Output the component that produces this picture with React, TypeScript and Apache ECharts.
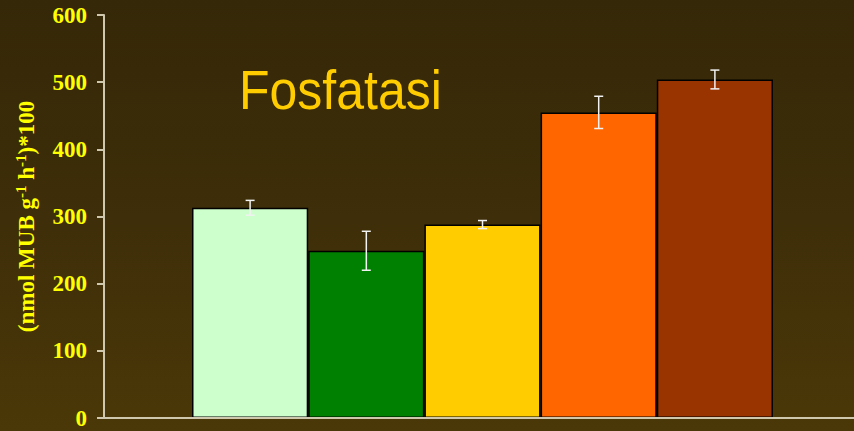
import React, { useEffect, useRef } from "react";
import * as echarts from "echarts";

const categories = ["1", "2", "3", "4", "5"];
const values = [313, 249, 288, 455, 504];
const errors = [11, 29, 6, 24, 14];
const barColors = ["#CCFFCC", "#008000", "#FFCC00", "#FF6600", "#993300"];
const yTicks = { min: 0, max: 600, interval: 100 };
const titleText = "Fosfatasi";
const yName = "{n|(nmol MUB g}{sup|-1}{n| h}{sup|-1}{n|)*100}";

export default function App() {
  const ref = useRef<HTMLDivElement>(null);
  useEffect(() => {
    if (!ref.current) return;
    const chart = echarts.init(ref.current, undefined, { renderer: "svg" });
    const axisColor = "#cfc7ae";
    const nameFont = {
      color: "#FFFF00",
      fontFamily: "Liberation Serif",
      fontWeight: "bold",
    };
    const option: any = {
      animation: false,
      backgroundColor: "transparent",
      graphic: [
        {
          type: "text",
          x: 239,
          y: 62,
          scaleY: 1.1,
          style: {
            text: titleText,
            fill: "#FFCC00",
            fontFamily: "Liberation Sans",
            fontSize: 50,
            verticalAlign: "top",
          },
        },
      ],
      grid: [
        { left: 104, right: 0, top: 15, bottom: 13 },
        { left: 192, right: 81, top: 15, bottom: 13 },
      ],
      xAxis: [
        {
          type: "category",
          gridIndex: 0,
          data: [""],
          axisLine: { lineStyle: { color: axisColor, width: 2 } },
          axisTick: { show: false },
          axisLabel: { show: false },
          z: 5,
        },
        {
          type: "category",
          gridIndex: 1,
          data: categories,
          show: false,
        },
      ],
      yAxis: [
        {
          type: "value",
          gridIndex: 0,
          min: yTicks.min,
          max: yTicks.max,
          interval: yTicks.interval,
          splitLine: { show: false },
          axisLine: { show: true, lineStyle: { color: axisColor, width: 2 } },
          axisTick: { show: true, length: 7, lineStyle: { color: axisColor, width: 2 } },
          axisLabel: {
            color: "#FFFF00",
            fontFamily: "Liberation Serif",
            fontWeight: "bold",
            fontSize: 23,
            margin: 17,
          },
          name: yName,
          nameLocation: "middle",
          nameRotate: 90,
          nameGap: 66,
          nameTextStyle: {
            ...nameFont,
            fontSize: 23,
            rich: {
              n: { ...nameFont, fontSize: 23, lineHeight: 24, verticalAlign: "bottom" },
              sup: {
                ...nameFont,
                fontSize: 15,
                lineHeight: 15,
                verticalAlign: "top",
                padding: [0, 0, 13, 0],
              },
            },
          },
        },
        {
          type: "value",
          gridIndex: 1,
          min: yTicks.min,
          max: yTicks.max,
          interval: yTicks.interval,
          show: false,
        },
      ],
      series: [
        {
          type: "bar",
          xAxisIndex: 1,
          yAxisIndex: 1,
          barWidth: "100%",
          data: values.map((v, i) => ({
            value: v,
            itemStyle: { color: barColors[i], borderColor: "#000", borderWidth: 1.5 },
          })),
        },
        {
          type: "custom",
          xAxisIndex: 1,
          yAxisIndex: 1,
          z: 10,
          data: values.map((v, i) => [i, v, errors[i]]),
          renderItem: (params: any, api: any) => {
            const i = api.value(0);
            const v = api.value(1);
            const e = api.value(2);
            const hi = api.coord([i, v + e]);
            const lo = api.coord([i, v - e]);
            const x = hi[0];
            const w = 4.5;
            const style = { stroke: "#f2f2f2", lineWidth: 1.5 };
            return {
              type: "group",
              children: [
                { type: "line", shape: { x1: x, y1: hi[1], x2: x, y2: lo[1] }, style },
                { type: "line", shape: { x1: x - w, y1: hi[1], x2: x + w, y2: hi[1] }, style },
                { type: "line", shape: { x1: x - w, y1: lo[1], x2: x + w, y2: lo[1] }, style },
              ],
            };
          },
        },
      ],
    };
    chart.setOption(option);
    return () => chart.dispose();
  }, []);
  return (
    <div
      style={{
        position: "fixed",
        left: 0,
        top: 0,
        width: 854,
        height: 431,
        background: "linear-gradient(to bottom, #352808 0%, #3e2e09 50%, #4b3808 100%)",
      }}
    >
      <div ref={ref} style={{ width: 854, height: 431 }} />
    </div>
  );
}
